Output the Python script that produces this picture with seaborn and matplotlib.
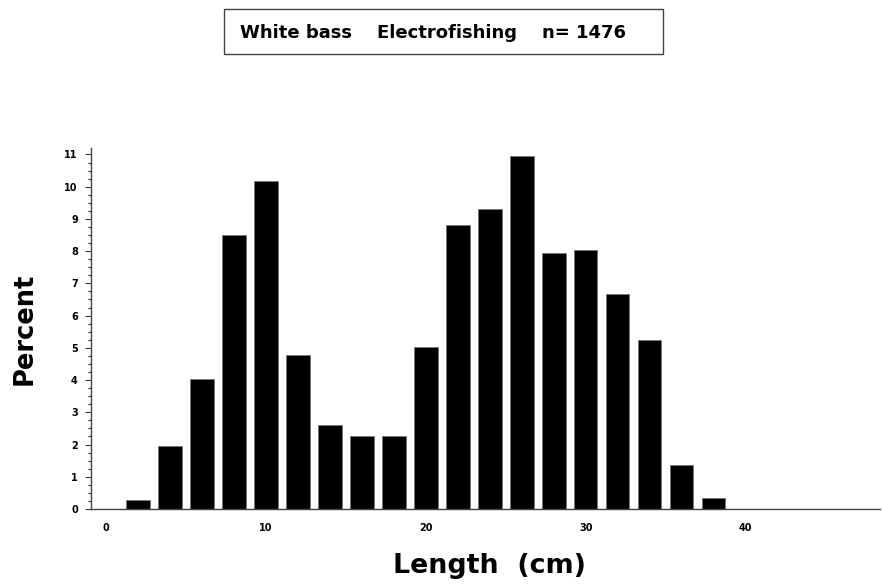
import matplotlib
matplotlib.use("Agg")
import matplotlib.pyplot as plt
import seaborn as sns
import pandas as pd
from matplotlib.ticker import MultipleLocator
from matplotlib.patches import Rectangle

lengths = [2, 4, 6, 8, 10, 12, 14, 16, 18, 20, 22, 24, 26, 28, 30, 32, 34, 36, 38]
percents = [0.28, 1.94, 4.04, 8.51, 10.19, 4.78, 2.62, 2.26, 2.26, 5.03,
            8.80, 9.31, 10.96, 7.95, 8.03, 6.67, 5.25, 1.38, 0.35]
x_ticks = [0, 10, 20, 30, 40]
y_ticks = list(range(0, 12))
title_text = "White bass    Electrofishing    n= 1476"

sns.set_theme(style="white")
plt.rcParams['font.family'] = ['DejaVu Sans']
plt.rcParams['text.color'] = 'black'

W, H = 883, 585
df = pd.DataFrame({"Length": lengths, "Percent": percents})

fig = plt.figure(figsize=(W / 100, H / 100), dpi=100)
ax = fig.add_axes([91 / W, 1 - 509 / H, (880 - 91) / W, (509 - 148) / H])

sns.barplot(data=df, x="Length", y="Percent", native_scale=True, width=0.73,
            color="black", saturation=1, edgecolor="#777777", linewidth=0.6, ax=ax)

ax.set_xlim(-0.95, 48.4)
ax.set_ylim(0, 11.2)
ax.set_xticks(x_ticks)
ax.set_xticklabels([str(t) for t in x_ticks], fontsize=7, fontweight="bold", color="black")
ax.set_yticks(y_ticks)
ax.set_yticklabels([str(t) for t in y_ticks], fontsize=7, fontweight="bold", color="black")
ax.yaxis.set_minor_locator(MultipleLocator(0.25))
ax.tick_params(axis="y", which="major", length=4.5, width=0.8, color="#333333", pad=5, left=True)
ax.tick_params(axis="y", which="minor", length=2.5, width=0.8, color="#333333", left=True)
ax.tick_params(axis="x", which="both", length=0, pad=10)

for side in ["top", "right"]:
    ax.spines[side].set_visible(False)
for side in ["left", "bottom"]:
    ax.spines[side].set_color("#444444")
    ax.spines[side].set_linewidth(1.0)

ax.set_xlabel("")
ax.set_ylabel("")
fig.text(489 / W, 1 - 573 / H, "Length  (cm)", ha="center", va="baseline",
         fontsize=19.4, fontweight="bold", color="black")
fig.text(25 / W, 1 - 329 / H, "Percent", ha="center", va="center",
         rotation=90, fontsize=18.5, fontweight="bold", color="black")

fig.patches.append(Rectangle((224 / W, 1 - 54 / H), (663 - 224) / W, (54 - 9) / H,
                             transform=fig.transFigure, facecolor="white",
                             edgecolor="#444444", linewidth=1.0))
fig.text(433 / W, 1 - 38 / H, title_text, ha="center", va="baseline",
         fontsize=13, fontweight="bold", color="black")

fig.savefig("out.png", dpi=100)
